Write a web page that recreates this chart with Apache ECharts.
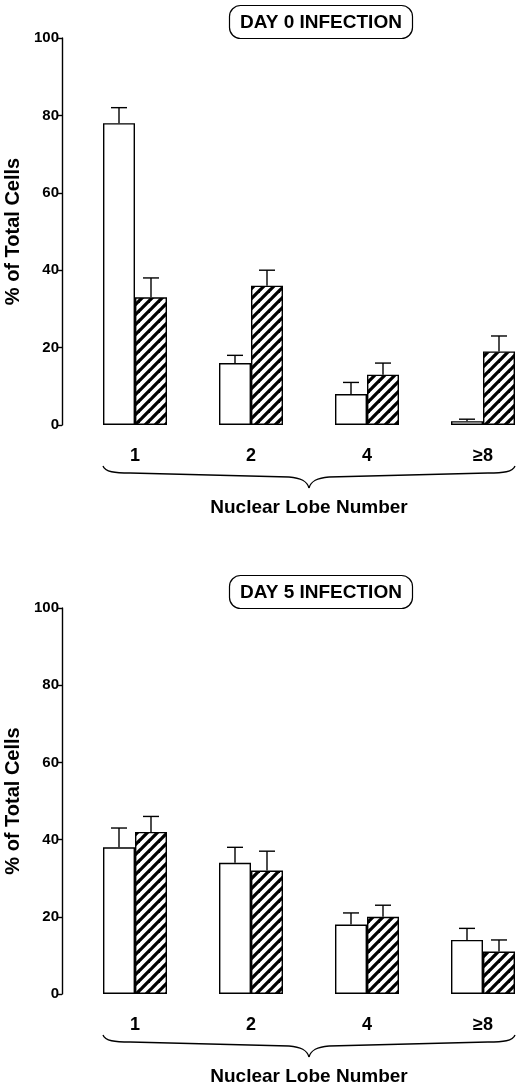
<!DOCTYPE html>
<html>
<head>
<meta charset="utf-8">
<script src="https://cdn.jsdelivr.net/npm/echarts@6/dist/echarts.min.js"></script>
<style>
html,body{margin:0;padding:0;background:#fff;}
#main{width:520px;height:1087px;}
</style>
</head>
<body>
<div id="main"></div>
<script>
// ---- data ----
const categories = ['1', '2', '4', '≥8'];
const yTicks = [0, 20, 40, 60, 80, 100];
const day0Open = [78, 16, 8, 1];
const day0OpenErr = [4, 2, 3, 0.5];
const day0Hatched = [33, 36, 13, 19];
const day0HatchedErr = [5, 4, 3, 4];
const day5Open = [38, 34, 18, 14];
const day5OpenErr = [5, 4, 3, 3];
const day5Hatched = [42, 32, 20, 11];
const day5HatchedErr = [4, 5, 3, 3];
const panelTitles = ['DAY 0 INFECTION', 'DAY 5 INFECTION'];
const xName = 'Nuclear Lobe Number';
const yName = '% of Total Cells';

// ---- styles ----
const FONT = '"Liberation Sans", Arial, sans-serif';
const BAR_W = 32;

function hatchPattern() {
  const s = 10;
  const c = document.createElement('canvas');
  c.width = s; c.height = s;
  const g = c.getContext('2d');
  g.fillStyle = '#fff';
  g.fillRect(0, 0, s, s);
  g.strokeStyle = '#000';
  g.lineWidth = 3.3;
  [[0, s, s, 0], [-s / 2, s / 2, s / 2, -s / 2], [s / 2, s * 1.5, s * 1.5, s / 2]].forEach(function (l) {
    g.beginPath(); g.moveTo(l[0], l[1]); g.lineTo(l[2], l[3]); g.stroke();
  });
  return c;
}
const hatch = { image: hatchPattern(), repeat: 'repeat' };

// grid spans from first category centre to last category centre (boundaryGap false)
const grids = [
  { left: 135, top: 38, width: 348, height: 387, outerBoundsMode: 'none', containLabel: false },
  { left: 135, top: 608, width: 348, height: 386, outerBoundsMode: 'none', containLabel: false }
];

function errSeries(idx, vals, errs, side) {
  return {
    type: 'custom',
    xAxisIndex: idx, yAxisIndex: idx,
    z: 1,
    silent: true,
    clip: false,
    data: vals.map(function (v, i) { return [i, v, errs[i]]; }),
    renderItem: function (params, api) {
      const top = api.coord([api.value(0), api.value(1) + api.value(2)]);
      const base = api.coord([api.value(0), api.value(1)]);
      const x = top[0] + side * BAR_W / 2;
      const half = 8;
      return {
        type: 'group',
        children: [
          { type: 'line', shape: { x1: x, y1: base[1], x2: x, y2: top[1] }, style: { stroke: '#000', lineWidth: 1.4 } },
          { type: 'line', shape: { x1: x - half, y1: top[1], x2: x + half, y2: top[1] }, style: { stroke: '#000', lineWidth: 1.4 } }
        ]
      };
    }
  };
}

function barSeries(idx, vals, fill) {
  return {
    type: 'bar',
    xAxisIndex: idx, yAxisIndex: idx,
    data: vals,
    barWidth: BAR_W,
    barGap: '0%',
    z: 2,
    silent: true,
    clip: false,
    itemStyle: { color: fill, borderColor: '#000', borderWidth: 1.4 }
  };
}

const option = {
  backgroundColor: '#fff',
  animation: false,
  title: panelTitles.map(function (t, i) {
    return {
      text: t,
      left: 229,
      top: i === 0 ? 5 : 575,
      padding: [8, 11, 7, 11],
      borderColor: '#000',
      borderWidth: 1.2,
      borderRadius: 11,
      textStyle: { fontFamily: FONT, fontWeight: 'bold', fontSize: 19, color: '#000' }
    };
  }),
  grid: grids,
  xAxis: grids.map(function (g, i) {
    return {
      type: 'category',
      gridIndex: i,
      data: categories,
      boundaryGap: false,
      axisLine: { show: false },
      axisTick: { show: false },
      splitLine: { show: false },
      axisLabel: { margin: 22, fontFamily: FONT, fontWeight: 'bold', fontSize: 18, color: '#000' },
      name: xName,
      nameLocation: 'middle',
      nameGap: 73,
      nameTextStyle: { fontFamily: FONT, fontWeight: 'bold', fontSize: 19, color: '#000' }
    };
  }),
  yAxis: grids.map(function (g, i) {
    return {
      type: 'value',
      gridIndex: i,
      min: yTicks[0],
      max: yTicks[yTicks.length - 1],
      interval: yTicks[1] - yTicks[0],
      offset: 73,
      splitLine: { show: false },
      axisLine: { show: true, lineStyle: { color: '#000', width: 1.4 } },
      axisTick: { show: true, length: 5, lineStyle: { color: '#000', width: 1.4 } },
      axisLabel: { margin: 3, fontFamily: FONT, fontWeight: 'bold', fontSize: 15, color: '#000' },
      name: yName,
      nameLocation: 'middle',
      nameGap: 39,
      nameTextStyle: { fontFamily: FONT, fontWeight: 'bold', fontSize: 20, color: '#000' }
    };
  }),
  series: [
    errSeries(0, day0Open, day0OpenErr, -1),
    errSeries(0, day0Hatched, day0HatchedErr, 1),
    barSeries(0, day0Open, '#fff'),
    barSeries(0, day0Hatched, hatch),
    errSeries(1, day5Open, day5OpenErr, -1),
    errSeries(1, day5Hatched, day5HatchedErr, 1),
    barSeries(1, day5Open, '#fff'),
    barSeries(1, day5Hatched, hatch)
  ]
};

const chart = echarts.init(document.getElementById('main'), null, { renderer: 'canvas' });
chart.setOption(option);

// curly braces under each x axis, placed from the axis scale
function braceParts(x0, x1, y, h) {
  const xm = (x0 + x1) / 2;
  const st = { fill: null, stroke: '#000', lineWidth: 1.3 };
  return [
    { type: 'bezierCurve', shape: { x1: x0, y1: y, cpx1: x0 + 2, cpy1: y + 6, cpx2: x0 + 12, cpy2: y + 7, x2: x0 + 27, y2: y + 7 }, style: st },
    { type: 'line', shape: { x1: x0 + 27, y1: y + 7, x2: xm - 20, y2: y + 11 }, style: st },
    { type: 'bezierCurve', shape: { x1: xm - 20, y1: y + 11, cpx1: xm - 8, cpy1: y + 12, cpx2: xm - 2, cpy2: y + 15, x2: xm, y2: y + h }, style: st },
    { type: 'bezierCurve', shape: { x1: xm, y1: y + h, cpx1: xm + 2, cpy1: y + 15, cpx2: xm + 8, cpy2: y + 12, x2: xm + 20, y2: y + 11 }, style: st },
    { type: 'line', shape: { x1: xm + 20, y1: y + 11, x2: x1 - 27, y2: y + 7 }, style: st },
    { type: 'bezierCurve', shape: { x1: x1 - 27, y1: y + 7, cpx1: x1 - 12, cpy1: y + 7, cpx2: x1 - 2, cpy2: y + 6, x2: x1, y2: y }, style: st }
  ];
}
let braceEls = [];
[0, 1].forEach(function (i) {
  const first = chart.convertToPixel({ xAxisIndex: i }, categories[0]);
  const last = chart.convertToPixel({ xAxisIndex: i }, categories[categories.length - 1]);
  const base = chart.convertToPixel({ yAxisIndex: i }, 0);
  braceEls = braceEls.concat(braceParts(first - BAR_W, last + BAR_W, base + 41, 22));
});
chart.setOption({ graphic: { elements: braceEls.map(function (e) { e.silent = true; return e; }) } });
</script>
</body>
</html>
